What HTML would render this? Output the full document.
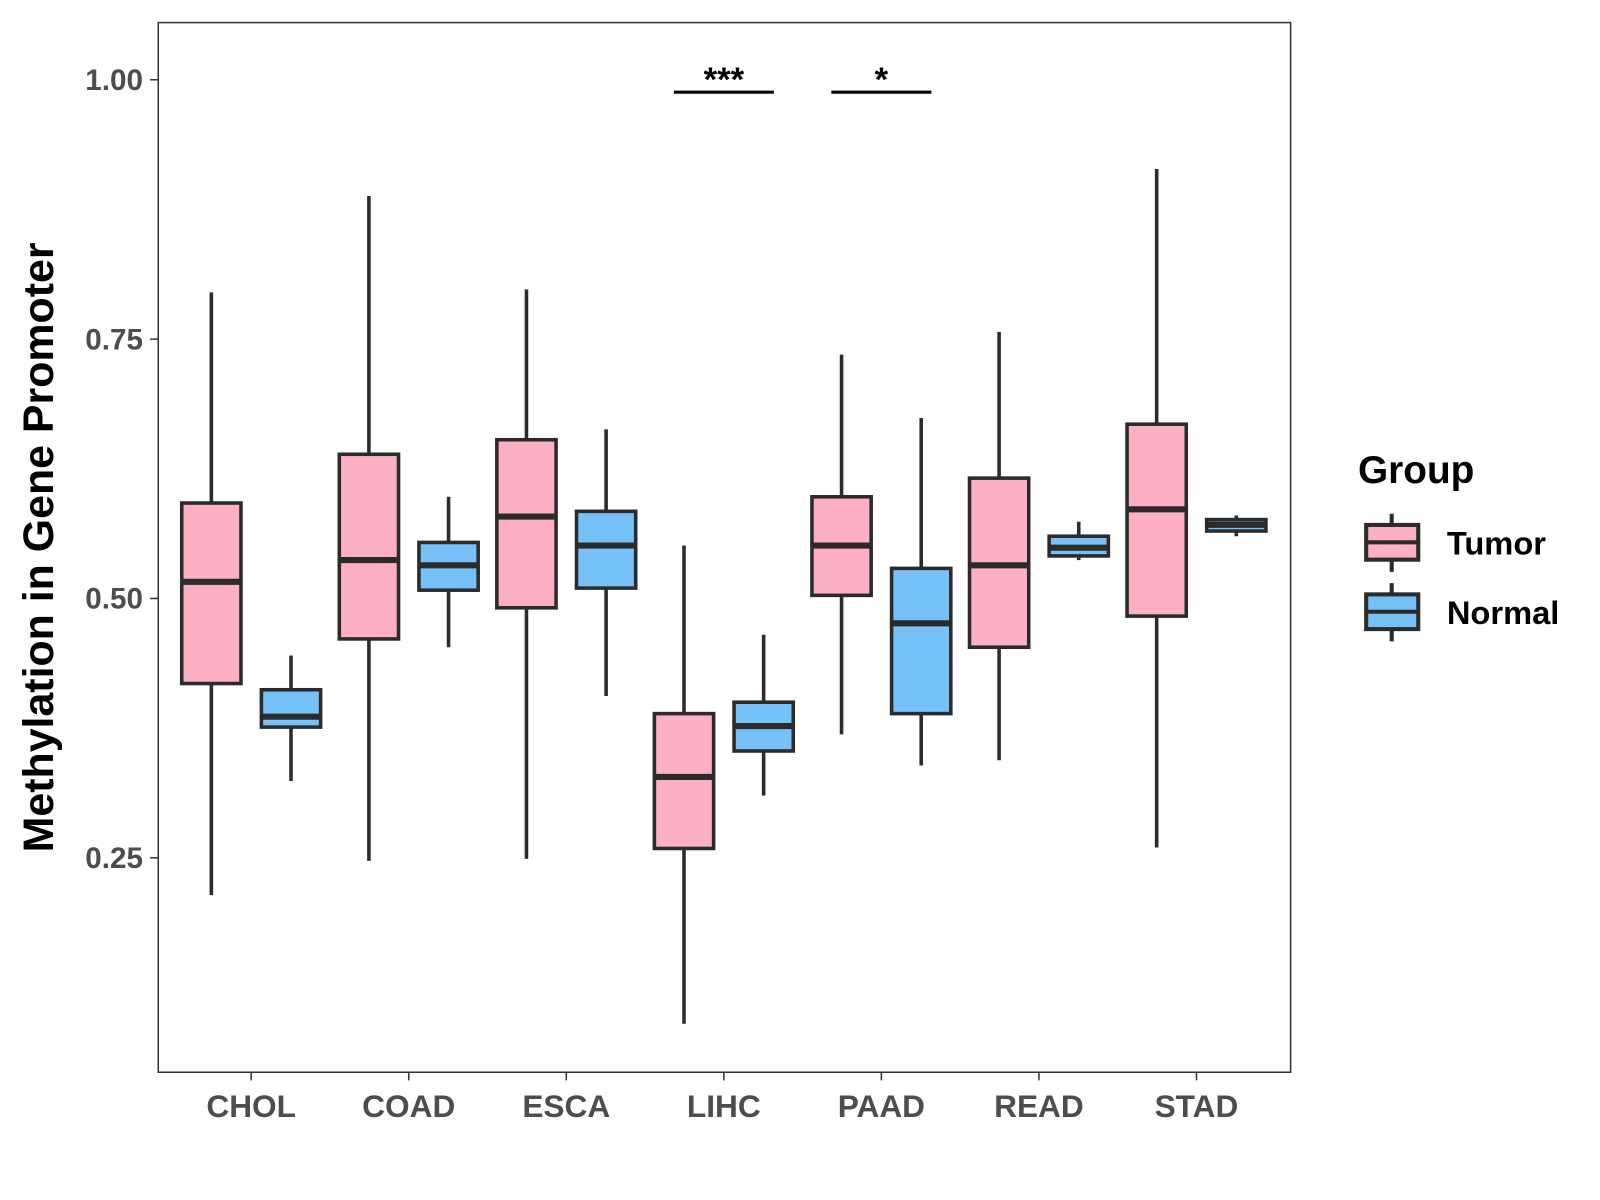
<!DOCTYPE html>
<html><head><meta charset="utf-8"><style>
body{margin:0;background:#fff;}
svg{display:block;font-family:"Liberation Sans",Arial,sans-serif;}
</style></head><body>
<svg id="chart" width="1600" height="1200" viewBox="0 0 1567 1175">
<rect x="0" y="0" width="1567" height="1175" fill="#fff"/>
<rect x="155" y="22" width="1109" height="1028" fill="none" stroke="#333" stroke-width="1.5"/>
<g id="yaxis"></g>
<g id="xaxis"></g>
<g id="boxes"></g>
<g id="sig"></g>
<text x="52" y="536" transform="rotate(-90 52 536)" text-anchor="middle" font-size="42" font-weight="bold" fill="#000">Methylation in Gene Promoter</text>
<g>
<text x="1330" y="473" font-size="38" font-weight="bold" fill="#000">Group</text>
<g>
<line x1="1363" y1="503" x2="1363" y2="560" stroke="#2b2b2b" stroke-width="4"/>
<rect x="1338" y="514" width="51" height="34" fill="#fdb0c3" stroke="#2b2b2b" stroke-width="4"/>
<line x1="1338" y1="531" x2="1389" y2="531" stroke="#2b2b2b" stroke-width="4"/>
<text x="1417" y="543" font-size="32" font-weight="bold" fill="#000">Tumor</text>
</g>
<g>
<line x1="1363" y1="571" x2="1363" y2="628" stroke="#2b2b2b" stroke-width="4"/>
<rect x="1338" y="582" width="51" height="34" fill="#76c1f7" stroke="#2b2b2b" stroke-width="4"/>
<line x1="1338" y1="599" x2="1389" y2="599" stroke="#2b2b2b" stroke-width="4"/>
<text x="1417" y="611" font-size="32" font-weight="bold" fill="#000">Normal</text>
</g>
</g>
</svg>
<script>
const categories = ["CHOL","COAD","ESCA","LIHC","PAAD","READ","STAD"];
const groups = ["Tumor","Normal"];
const tumorLow  = [0.214,0.247,0.249,0.090,0.369,0.344,0.260];
const tumorQ1   = [0.418,0.461,0.491,0.259,0.503,0.453,0.483];
const tumorMed  = [0.516,0.537,0.579,0.328,0.551,0.532,0.586];
const tumorQ3   = [0.592,0.639,0.653,0.389,0.598,0.616,0.668];
const tumorHigh = [0.795,0.888,0.798,0.551,0.735,0.757,0.914];
const normalLow  = [0.324,0.453,0.406,0.310,0.339,0.537,0.560];
const normalQ1   = [0.376,0.508,0.510,0.353,0.389,0.541,0.565];
const normalMed  = [0.386,0.532,0.551,0.377,0.476,0.549,0.571];
const normalQ3   = [0.412,0.554,0.584,0.400,0.529,0.560,0.576];
const normalHigh = [0.445,0.598,0.663,0.465,0.674,0.574,0.580];
const yTicks = [0.25,0.50,0.75,1.00];
const yTickLabels = ["0.25","0.50","0.75","1.00"];
const sigCategories = ["LIHC","PAAD"];
const sigLabels = ["***","*"];
const sigLevel = [0.988,0.988];

const NS="http://www.w3.org/2000/svg";
function y(v){return 78+(1-v)*1016;}
function xc(i){return 246+i*154.3;}
function mk(tag,attrs,parent){const e=document.createElementNS(NS,tag);for(const k in attrs)e.setAttribute(k,attrs[k]);parent.appendChild(e);return e;}

const ya=document.getElementById('yaxis');
yTicks.forEach((t,i)=>{
  const l=mk('line',{x1:147,x2:155,y1:y(t),y2:y(t),stroke:'#333','stroke-width':1.5},ya);
  
  
  const tx=mk('text',{x:140,y:y(t)+10,'text-anchor':'end','font-size':29,'font-weight':'bold',fill:'#4d4d4d'},ya);
  tx.textContent=yTickLabels[i];
  
  
});
const xa=document.getElementById('xaxis');
categories.forEach((c,i)=>{
  const l=mk('line',{x1:xc(i),x2:xc(i),y1:1050,y2:1058,stroke:'#333','stroke-width':1.5},xa);
  
  
  const tx=mk('text',{x:xc(i),y:1094,'text-anchor':'middle','font-size':31,'font-weight':'bold',fill:'#4d4d4d'},xa);
  tx.textContent=c;
  
  
});
const bx=document.getElementById('boxes');
function drawBox(cx,lo,q1,md,q3,hi,fill,name){
  const g=mk('g',{},bx);
  
  
  mk('line',{x1:cx,x2:cx,y1:y(hi),y2:y(q3),stroke:'#2b2b2b','stroke-width':3.5},g);
  mk('line',{x1:cx,x2:cx,y1:y(q1),y2:y(lo),stroke:'#2b2b2b','stroke-width':3.5},g);
  mk('rect',{x:cx-29,y:y(q3),width:58,height:Math.max(y(q1)-y(q3),0.5),fill:fill,stroke:'#2b2b2b','stroke-width':3.5},g);
  mk('line',{x1:cx-29,x2:cx+29,y1:y(md),y2:y(md),stroke:'#2b2b2b','stroke-width':6},g);
}
categories.forEach((c,i)=>{
  drawBox(xc(i)-39,tumorLow[i],tumorQ1[i],tumorMed[i],tumorQ3[i],tumorHigh[i],'#fdb0c3','box-'+c.toLowerCase()+'-tumor');
  drawBox(xc(i)+39,normalLow[i],normalQ1[i],normalMed[i],normalQ3[i],normalHigh[i],'#76c1f7','box-'+c.toLowerCase()+'-normal');
});
const sg=document.getElementById('sig');
sigCategories.forEach((c,k)=>{
  const i=categories.indexOf(c);
  const l=mk('line',{x1:xc(i)-49,x2:xc(i)+49,y1:y(sigLevel[k]),y2:y(sigLevel[k]),stroke:'#000','stroke-width':3},sg);
  
  
  const t=mk('text',{x:xc(i),y:y(sigLevel[k])-1,'text-anchor':'middle','font-size':34,'font-weight':'bold',fill:'#000'},sg);
  t.textContent=sigLabels[k];
  
  
});
</script>
</body></html>
